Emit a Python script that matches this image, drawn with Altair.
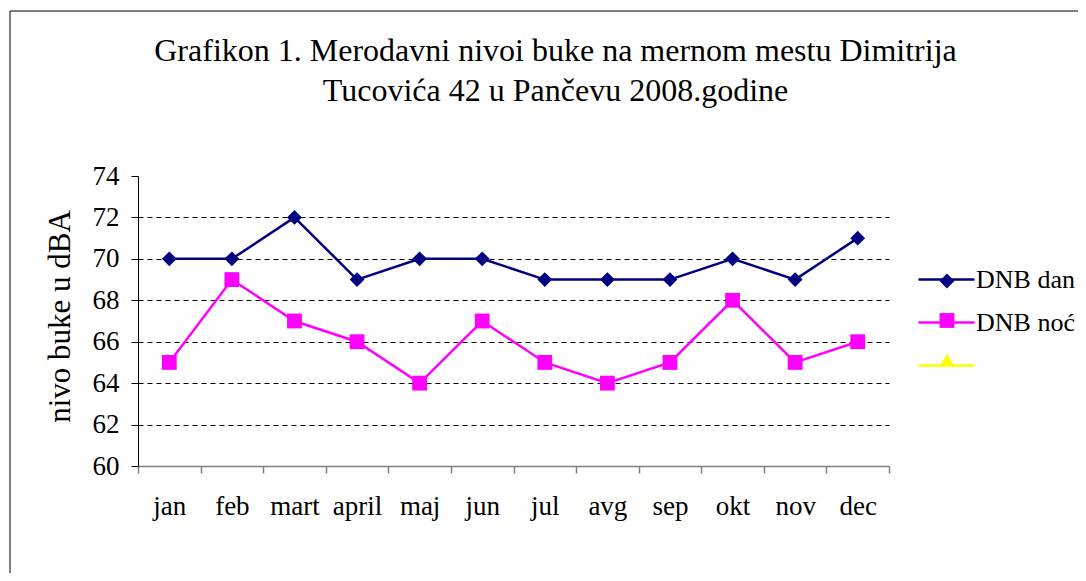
import altair as alt
import pandas as pd

months = ["jan", "feb", "mart", "april", "maj", "jun", "jul", "avg", "sep", "okt", "nov", "dec"]
dnb_dan = [70, 70, 72, 69, 70, 70, 69, 69, 69, 70, 69, 71]
dnb_noc = [65, 69, 67, 66, 64, 67, 65, 64, 65, 68, 65, 66]
series_names = ["DNB dan", "DNB noć", " "]
series_colors = ["#000080", "#FF00FF", "#FFFF00"]
series_shapes = ["diamond", "square", "triangle-up"]
y_ticks = [60, 62, 64, 66, 68, 70, 72, 74]
title_lines = ["Grafikon 1. Merodavni nivoi buke na mernom mestu Dimitrija",
               "Tucovića 42 u Pančevu 2008.godine"]
y_title = "nivo buke u dBA"

rows = []
for m, v in zip(months, dnb_dan):
    rows.append({"mesec": m, "serija": series_names[0], "vrednost": v})
for m, v in zip(months, dnb_noc):
    rows.append({"mesec": m, "serija": series_names[1], "vrednost": v})
df = pd.DataFrame(rows)

FONT = "Liberation Serif"

x_enc = alt.X(
    "mesec:N",
    sort=months,
    scale=alt.Scale(type="band", domain=months, paddingInner=0, paddingOuter=0),
    bandPosition=0.5,
    axis=alt.Axis(
        title=None, labelAngle=0, tickBand="extent", domainColor="#808080",
        domainWidth=1.5, tickColor="#808080", tickWidth=1.5, tickSize=7,
        labelFont=FONT, labelFontSize=27, labelColor="black", labelPadding=20,
        grid=False,
    ),
)
y_enc = alt.Y(
    "vrednost:Q",
    scale=alt.Scale(domain=[60, 74], nice=False, zero=False),
    axis=alt.Axis(
        values=y_ticks, title=y_title, titleFont=FONT, titleFontSize=31,
        titleFontWeight="normal", titleColor="black",
        titleX=-69, titleY=140, titleAngle=270, titleBaseline="alphabetic", titleAlign="center",
        labelFont=FONT, labelFontSize=27, labelColor="black", labelPadding=12,
        domainColor="black", tickColor="black", tickSize=7,
        grid=True, gridColor="black", gridDash=[5, 4], gridWidth=1,
        gridOpacity={"condition": {"test": "datum.value >= 74 || datum.value <= 60", "value": 0}, "value": 1},
    ),
)

lines = alt.Chart(df).mark_line(strokeWidth=2.5).encode(
    x=x_enc,
    y=y_enc,
    stroke=alt.Stroke(
        "serija:N",
        scale=alt.Scale(domain=series_names, range=series_colors),
        legend=alt.Legend(
            title=None, orient="none", legendX=779, legendY=74,
            symbolType="stroke", symbolSize=3136, symbolStrokeWidth=2.5,
            labelFont=FONT, labelFontSize=26, labelColor="black", labelOffset=0,
            rowPadding=-16.5, padding=0, labelLimit=300,
        ),
    ),
)

marker_legend = alt.Legend(
    title=None, orient="none", legendX=796, legendY=92,
    symbolSize=220, symbolStrokeWidth=0, symbolOpacity=1,
    labelFont=FONT, labelFontSize=26, labelExpr="''",
    rowPadding=13.5, padding=0,
)

points = alt.Chart(df).mark_point(filled=True, size=220, opacity=1, strokeWidth=0).encode(
    x=x_enc,
    y=y_enc,
    fill=alt.Fill("serija:N", scale=alt.Scale(domain=series_names, range=series_colors), legend=marker_legend),
    shape=alt.Shape("serija:N", scale=alt.Scale(domain=series_names, range=series_shapes), legend=marker_legend),
)

frame = alt.Chart(pd.DataFrame({"k": [0]})).mark_rect(
    fill="white", fillOpacity=0, stroke="black", strokeWidth=1
).encode(
    x=alt.value(-128), y=alt.value(-165), x2=alt.value(1500), y2=alt.value(900)
)

chart = alt.layer(frame, lines, points).resolve_scale(
    stroke="independent", fill="independent", shape="independent"
).properties(
    width=751,
    height=290,
    padding={"left": 130, "top": 168, "right": 189, "bottom": 107},
    autosize=alt.AutoSizeParams(type="none"),
    title=alt.TitleParams(
        text=title_lines, font=FONT, fontSize=32, fontWeight="normal", color="black",
        anchor="middle", frame="group", dx=42, offset=-97, lineHeight=40,
    ),
).configure(
    background="white", font=FONT,
    style={"guide-label": {"font": FONT}, "guide-title": {"font": FONT}},
).configure_view(stroke=None).configure_axis(
    labelFont=FONT, titleFont=FONT
).configure_legend(labelFont=FONT)

chart.save("out.html", embed_options={"renderer": "svg", "actions": False})
